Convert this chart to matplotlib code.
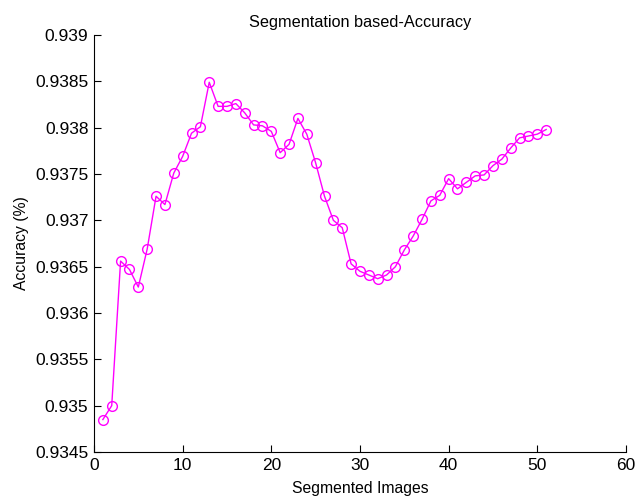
import matplotlib
matplotlib.use("Agg")
import matplotlib.pyplot as plt

x_images = list(range(1, 52))
accuracy = [0.93485, 0.93500, 0.93656, 0.93647, 0.93628, 0.93669, 0.93726, 0.93717, 0.93751, 0.93769,
            0.93794, 0.93801, 0.93849, 0.93823, 0.93823, 0.93826, 0.93816, 0.93803, 0.93802, 0.93796,
            0.93773, 0.93782, 0.93810, 0.93793, 0.93762, 0.93726, 0.93700, 0.93692, 0.93653, 0.93645,
            0.93641, 0.93637, 0.93641, 0.93650, 0.93668, 0.93683, 0.93701, 0.93721, 0.93727, 0.93745,
            0.93734, 0.93741, 0.93748, 0.93749, 0.93759, 0.93766, 0.93778, 0.93789, 0.93791, 0.93793,
            0.93798]
xticks = [0, 10, 20, 30, 40, 50, 60]
yticks = [0.9345, 0.935, 0.9355, 0.936, 0.9365, 0.937, 0.9375, 0.938, 0.9385, 0.939]
ytick_labels = ["0.9345", "0.935", "0.9355", "0.936", "0.9365", "0.937", "0.9375", "0.938", "0.9385", "0.939"]

plt.rcParams['font.family'] = ['Liberation Sans', 'DejaVu Sans']

fig = plt.figure(figsize=(6.42, 4.98), dpi=100)
ax = fig.add_axes([0.1464, 0.0924, 0.8286, 0.8373])
ax.plot(x_images, accuracy, color='#ff00ff', linewidth=1.0, marker='o',
        markersize=7, markerfacecolor='none', markeredgecolor='#ff00ff', markeredgewidth=1.0)
ax.set_xlim(0, 60)
ax.set_ylim(0.9345, 0.939)
ax.set_xticks(xticks)
ax.set_yticks(yticks)
ax.set_yticklabels(ytick_labels)
ax.spines['top'].set_visible(False)
ax.spines['right'].set_visible(False)
ax.tick_params(direction='in', length=5, labelsize=12.5, width=0.8)
ax.tick_params(axis='x', pad=4)
ax.tick_params(axis='y', pad=4)
ax.set_xlabel('Segmented Images', fontsize=11.3)
ax.set_ylabel('Accuracy (%)', fontsize=11.3)
ax.xaxis.set_label_coords(0.5, -0.07)
ax.yaxis.set_label_coords(-0.122, 0.5)
ax.set_title('Segmentation based-Accuracy', fontsize=11.7, pad=6)
fig.savefig('out.png', dpi=100)
